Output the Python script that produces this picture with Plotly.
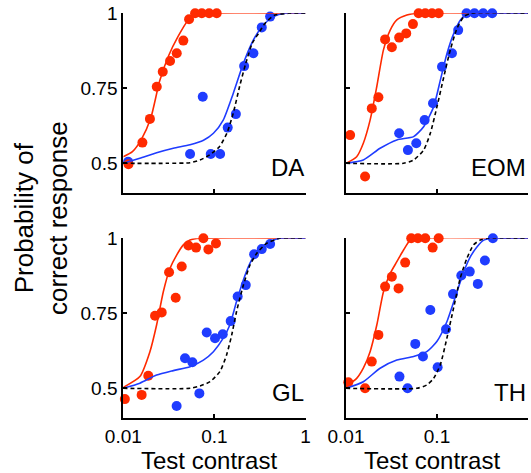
import plotly.graph_objects as go

# ---------------- data ----------------
panels = ["DA", "EOM", "GL", "TH"]

# measured points: red = one condition, blue = other condition
red_x = {
    "DA": [0.0114, 0.0162, 0.0196, 0.0233, 0.0271, 0.0326, 0.0386, 0.0456, 0.0527, 0.0614, 0.0727, 0.0875, 0.106],
    "EOM": [0.0111, 0.0162, 0.0192, 0.0227, 0.0269, 0.0319, 0.0384, 0.0459, 0.0544, 0.0628, 0.0743, 0.0881, 0.1043],
    "GL": [0.0104, 0.0159, 0.0188, 0.0223, 0.0264, 0.0318, 0.0376, 0.0438, 0.0518, 0.0629, 0.0757, 0.0859, 0.104],
    "TH": [0.0106, 0.0162, 0.0192, 0.0227, 0.0269, 0.0319, 0.0378, 0.0447, 0.0521, 0.0617, 0.0743, 0.0896, 0.1043],
}
red_y = {
    "DA": [0.497, 0.569, 0.648, 0.755, 0.805, 0.841, 0.867, 0.909, 0.98, 1.0, 1.0, 1.0, 1.0],
    "EOM": [0.594, 0.456, 0.683, 0.72, 0.913, 0.887, 0.919, 0.933, 0.964, 1.0, 1.0, 1.0, 1.0],
    "GL": [0.464, 0.478, 0.542, 0.742, 0.753, 0.887, 0.802, 0.906, 0.976, 0.969, 1.0, 0.963, 0.983],
    "TH": [0.52, 0.5, 0.589, 0.678, 0.839, 0.872, 0.833, 0.919, 1.0, 1.0, 1.0, 0.969, 1.0],
}
blue_x = {
    "DA": [0.0113, 0.0541, 0.0745, 0.0912, 0.1155, 0.140, 0.172, 0.212, 0.268, 0.331, 0.409],
    "EOM": [0.0384, 0.0479, 0.0592, 0.0731, 0.0904, 0.1135, 0.146, 0.171, 0.211, 0.258, 0.322, 0.404],
    "GL": [0.0385, 0.0476, 0.0573, 0.0684, 0.0824, 0.1016, 0.1235, 0.151, 0.180, 0.221, 0.273, 0.331, 0.409],
    "TH": [0.0387, 0.0475, 0.0577, 0.0701, 0.0844, 0.1016, 0.1256, 0.150, 0.185, 0.229, 0.281, 0.336, 0.411],
}
blue_y = {
    "DA": [0.505, 0.531, 0.722, 0.531, 0.531, 0.619, 0.664, 0.824, 0.867, 0.953, 0.989],
    "EOM": [0.6, 0.544, 0.567, 0.644, 0.7, 0.822, 0.867, 0.944, 1.0, 1.0, 1.0, 1.0],
    "GL": [0.441, 0.6, 0.587, 0.483, 0.686, 0.667, 0.68, 0.724, 0.806, 0.844, 0.947, 0.964, 0.981],
    "TH": [0.539, 0.5, 0.648, 0.606, 0.761, 0.57, 0.697, 0.814, 0.876, 0.889, 0.848, 0.926, 1.0],
}

# fitted curves at a few contrasts
red_fit_x = {
    "DA": [0.01, 0.0126, 0.0158, 0.02, 0.0251, 0.0316, 0.0398, 0.0501, 0.063, 0.0794, 1.0],
    "EOM": [0.01, 0.0131, 0.0155, 0.0184, 0.0218, 0.0258, 0.0306, 0.0362, 0.0467, 0.0595, 1.0],
    "GL": [0.01, 0.0152, 0.0196, 0.0232, 0.0275, 0.0326, 0.0385, 0.0456, 0.054, 0.0697, 1.0],
    "TH": [0.01, 0.0131, 0.0155, 0.0184, 0.0218, 0.0258, 0.0306, 0.0362, 0.0429, 0.0508, 0.062, 1.0],
}
red_fit_y = {
    "DA": [0.522, 0.539, 0.58, 0.65, 0.775, 0.86, 0.922, 0.972, 0.994, 1.0, 1.0],
    "EOM": [0.5, 0.522, 0.567, 0.644, 0.756, 0.878, 0.944, 0.978, 0.994, 1.0, 1.0],
    "GL": [0.503, 0.539, 0.622, 0.711, 0.822, 0.9, 0.944, 0.978, 0.994, 1.0, 1.0],
    "TH": [0.506, 0.533, 0.567, 0.622, 0.711, 0.822, 0.883, 0.922, 0.961, 0.994, 1.0, 1.0],
}
blue_fit_x = {
    "DA": [0.01, 0.0152, 0.0232, 0.0354, 0.054, 0.076, 0.0976, 0.125, 0.161, 0.208, 0.268, 0.345, 0.445, 0.6, 1.0],
    "EOM": [0.01, 0.0155, 0.0237, 0.0362, 0.0553, 0.0713, 0.092, 0.109, 0.129, 0.153, 0.181, 0.214, 0.3, 1.0],
    "GL": [0.01, 0.0152, 0.0232, 0.0354, 0.054, 0.0757, 0.0975, 0.125, 0.1477, 0.175, 0.208, 0.246, 0.292, 0.374, 0.52, 1.0],
    "TH": [0.01, 0.0155, 0.0237, 0.0362, 0.0553, 0.0772, 0.0996, 0.1284, 0.166, 0.197, 0.233, 0.276, 0.327, 0.42, 1.0],
}
blue_fit_y = {
    "DA": [0.5, 0.517, 0.535, 0.55, 0.562, 0.577, 0.6, 0.644, 0.733, 0.833, 0.911, 0.961, 0.989, 1.0, 1.0],
    "EOM": [0.5, 0.511, 0.55, 0.578, 0.589, 0.622, 0.689, 0.778, 0.867, 0.933, 0.978, 0.997, 1.0, 1.0],
    "GL": [0.5, 0.517, 0.544, 0.559, 0.572, 0.594, 0.622, 0.667, 0.711, 0.789, 0.861, 0.917, 0.956, 0.983, 1.0, 1.0],
    "TH": [0.5, 0.522, 0.567, 0.594, 0.606, 0.622, 0.656, 0.722, 0.822, 0.889, 0.939, 0.972, 0.994, 1.0, 1.0],
}
black_fit_x = {
    "DA": [0.01, 0.03, 0.054, 0.0695, 0.089, 0.114, 0.137, 0.161, 0.189, 0.221, 0.26, 0.305, 0.36, 0.46, 0.65, 1.0],
    "EOM": [0.01, 0.0429, 0.0553, 0.0713, 0.0844, 0.1, 0.119, 0.14, 0.166, 0.197, 0.235, 1.0],
    "GL": [0.01, 0.054, 0.0697, 0.0896, 0.115, 0.136, 0.155, 0.175, 0.208, 0.246, 0.292, 0.374, 0.52, 1.0],
    "TH": [0.01, 0.0598, 0.0772, 0.0918, 0.1086, 0.1284, 0.152, 0.18, 0.213, 0.252, 0.298, 0.36, 1.0],
}
black_fit_y = {
    "DA": [0.5, 0.5, 0.502, 0.511, 0.528, 0.556, 0.6, 0.667, 0.756, 0.833, 0.9, 0.933, 0.967, 0.994, 1.0, 1.0],
    "EOM": [0.5, 0.5, 0.511, 0.544, 0.6, 0.689, 0.789, 0.878, 0.95, 0.989, 1.0, 1.0],
    "GL": [0.5, 0.5, 0.508, 0.522, 0.556, 0.611, 0.678, 0.756, 0.844, 0.911, 0.95, 0.983, 1.0, 1.0],
    "TH": [0.5, 0.5, 0.511, 0.533, 0.578, 0.667, 0.767, 0.867, 0.933, 0.978, 0.994, 1.0, 1.0],
}

x_ticks = [0.01, 0.1, 1]
x_tick_text = ["0.01", "0.1", "1"]
y_ticks = [0.5, 0.75, 1]
y_tick_text = ["0.5", "0.75", "1"]

x_title = "Test contrast"
y_title = "Probability of<br>correct response"

# ---------------- styles ----------------
RED = "#ff2a00"
BLUE = "#1f3cff"
FONT = "Liberation Sans, Arial, Helvetica, sans-serif"
W, H = 531, 473

x_dom = {"L": [123.3 / W, 305.5 / W], "R": [346 / W, 528 / W]}
y_dom = {"T": [1 - 193.3 / H, 1 - 13.3 / H], "B": [1 - 418.3 / H, 1 - 238.3 / H]}
pos = {"DA": ("L", "T"), "EOM": ("R", "T"), "GL": ("L", "B"), "TH": ("R", "B")}

fig = go.Figure()
layout = dict(
    width=W, height=H,
    margin=dict(l=0, r=0, t=0, b=0, pad=0, autoexpand=False),
    paper_bgcolor="white", plot_bgcolor="white",
    showlegend=False,
    font=dict(family=FONT, color="black"),
)
annotations = []

for i, name in enumerate(panels, start=1):
    xa = "x" if i == 1 else f"x{i}"
    ya = "y" if i == 1 else f"y{i}"
    col, row = pos[name]
    marker = dict(size=10, line=dict(width=0))
    fig.add_trace(go.Scatter(x=blue_x[name], y=blue_y[name], mode="markers",
                             marker=dict(color=BLUE, **marker), cliponaxis=False,
                             xaxis=xa, yaxis=ya))
    fig.add_trace(go.Scatter(x=red_x[name], y=red_y[name], mode="markers",
                             marker=dict(color=RED, **marker), cliponaxis=False,
                             xaxis=xa, yaxis=ya))
    fig.add_trace(go.Scatter(x=red_fit_x[name], y=red_fit_y[name], mode="lines",
                             line=dict(color=RED, width=1.6, shape="spline", smoothing=0.6),
                             cliponaxis=False, xaxis=xa, yaxis=ya))
    fig.add_trace(go.Scatter(x=blue_fit_x[name], y=blue_fit_y[name], mode="lines",
                             line=dict(color=BLUE, width=1.6, shape="spline", smoothing=0.6),
                             cliponaxis=False, xaxis=xa, yaxis=ya))
    fig.add_trace(go.Scatter(x=black_fit_x[name], y=black_fit_y[name], mode="lines",
                             line=dict(color="black", width=1.6, dash="4px,3px", shape="spline", smoothing=0.6),
                             cliponaxis=False, xaxis=xa, yaxis=ya))

    bottom = row == "B"
    left = col == "L"
    kx = "xaxis" if i == 1 else f"xaxis{i}"
    ky = "yaxis" if i == 1 else f"yaxis{i}"
    layout[kx] = dict(
        type="log", range=[-2, 0], domain=x_dom[col], anchor=ya,
        automargin=False,
        showline=True, linecolor="black", linewidth=2, mirror=False,
        showgrid=False, zeroline=False,
        ticks="inside", ticklen=4, tickwidth=1.5, tickcolor="black",
        tickvals=x_ticks, ticktext=x_tick_text, showticklabels=bottom,
        tickfont=dict(size=19, family=FONT, color="black"),
        ticklabelstandoff=0,
    )
    layout[ky] = dict(
        range=[0.4, 1.0], domain=y_dom[row], anchor=xa,
        automargin=False,
        showline=True, linecolor="black", linewidth=2, mirror=False,
        showgrid=False, zeroline=False,
        ticks="inside", ticklen=4, tickwidth=1.5, tickcolor="black",
        tickvals=y_ticks, ticktext=y_tick_text, showticklabels=left,
        tickfont=dict(size=19, family=FONT, color="black"),
        ticklabelstandoff=0,
    )
    annotations.append(dict(
        text=name, xref=f"{xa} domain", yref=ya, x=1.0, y=0.485,
        xanchor="right", yanchor="middle", showarrow=False,
        font=dict(size=24, family=FONT, color="black"),
    ))
    if bottom:
        annotations.append(dict(
            text=x_title, xref=f"{xa} domain", yref="paper",
            x=0.47, y=1 - 460 / H, xanchor="center", yanchor="middle", showarrow=False,
            font=dict(size=24, family=FONT, color="black"),
        ))

annotations.append(dict(
    text=y_title, xref="paper", yref="paper", x=41 / W, y=1 - 218 / H,
    xanchor="center", yanchor="middle", textangle=-90, showarrow=False,
    font=dict(size=26, family=FONT, color="black"),
))
layout["annotations"] = annotations
fig.update_layout(**layout)
fig.write_html(
    "out.html",
    config={"displayModeBar": False},
    post_script="document.body.style.margin='0px';document.body.style.overflow='hidden';",
)
